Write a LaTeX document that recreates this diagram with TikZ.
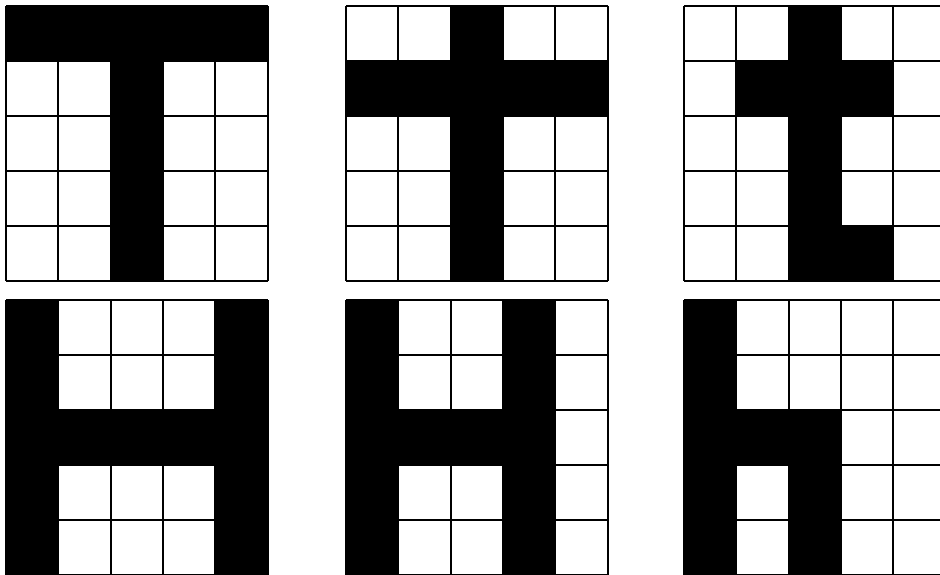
\documentclass[tikz,border=0pt]{standalone}
\newcommand\pixgrid[3]{%
  \begin{scope}[shift={(#1,#2)}]
    \foreach \c/\r in {#3} \fill[black] (\c*52.3,\r*55) rectangle ++(52.3,55);
    \foreach \i in {0,...,5} {
      \draw (\i*52.3,0) -- (\i*52.3,275);
      \draw (0,\i*55) -- (261.5,\i*55);
    }
  \end{scope}}
\begin{document}
\begin{tikzpicture}[x=0.75pt,y=-0.75pt,line width=1.5pt]
\useasboundingbox (0,0) rectangle (940,575);
\clip (0,0) rectangle (940,575);
\fill[white] (0,0) rectangle (940,575);
% T
\pixgrid{6}{6}{0/0,1/0,2/0,3/0,4/0,2/1,2/2,2/3,2/4}
% cross
\pixgrid{346}{6}{0/1,1/1,2/1,3/1,4/1,2/0,2/2,2/3,2/4}
% t
\pixgrid{684}{6}{2/0,1/1,2/1,3/1,2/2,2/3,2/4,3/4}
% H
\pixgrid{6}{300}{0/0,0/1,0/2,0/3,0/4,4/0,4/1,4/2,4/3,4/4,1/2,2/2,3/2}
% H shifted
\pixgrid{346}{300}{0/0,0/1,0/2,0/3,0/4,3/0,3/1,3/2,3/3,3/4,1/2,2/2}
% h
\pixgrid{684}{300}{0/0,0/1,0/2,0/3,0/4,1/2,2/2,2/3,2/4}
\end{tikzpicture}
\end{document}
